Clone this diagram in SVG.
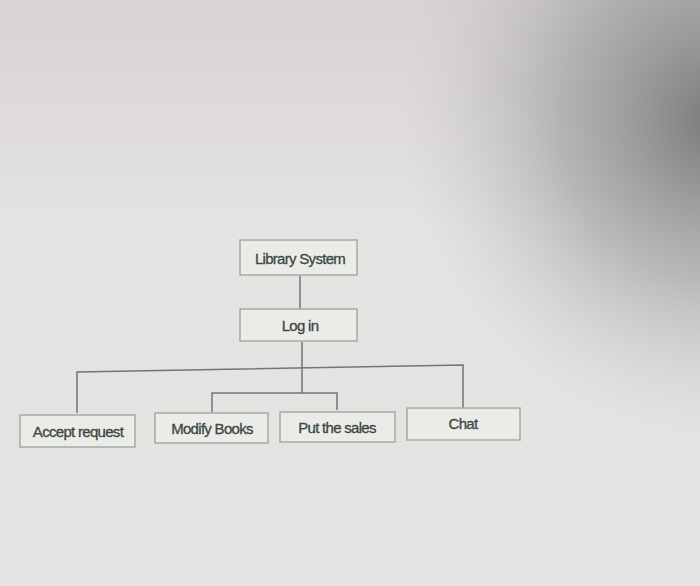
<svg xmlns="http://www.w3.org/2000/svg" width="700" height="586" viewBox="0 0 700 586">
<defs>
<linearGradient id="bg" x1="0" y1="0" x2="0" y2="1">
<stop offset="0" stop-color="#d6d3d2"/><stop offset="0.4" stop-color="#e6e4e3"/><stop offset="1" stop-color="#e4e3e1"/>
</linearGradient>
<radialGradient id="shade" cx="720" cy="120" r="320" gradientUnits="userSpaceOnUse">
<stop offset="0" stop-color="#6e6d6c" stop-opacity="0.9"/><stop offset="0.5" stop-color="#8d8c8a" stop-opacity="0.5"/><stop offset="1" stop-color="#c0bfbd" stop-opacity="0"/>
</radialGradient>
<style>
.box{fill:#ebebe7;stroke:#a3aba4;stroke-width:1.5}
.t{font-family:"Liberation Sans",Arial,sans-serif;font-size:15px;fill:#3a4744;text-anchor:middle;letter-spacing:-0.7px;stroke:#3a4744;stroke-width:0.3}
.c{fill:none;stroke:#6f7774;stroke-width:1.5}
</style>
</defs>
<rect width="700" height="586" fill="url(#bg)"/>
<rect width="700" height="586" fill="url(#shade)"/>
<g id="connectors">
<path class="c" d="M300 276V309"/>
<path class="c" d="M302 342V393"/>
<path class="c" d="M77 413V372L463 365V408"/>
<path class="c" d="M212 412V393H337V410"/>
</g>
<g id="library"><rect class="box" x="240" y="240" width="117" height="35"/><text class="t" x="300" y="264">Library System</text></g>
<g id="login"><rect class="box" x="240" y="309" width="117" height="32"/><text class="t" x="300" y="331">Log in</text></g>
<g id="accept"><rect class="box" x="20" y="415" width="115" height="32"/><text class="t" x="78" y="437">Accept request</text></g>
<g id="modify"><rect class="box" x="155" y="413" width="113" height="30"/><text class="t" x="212" y="434">Modify Books</text></g>
<g id="sales"><rect class="box" x="280" y="412" width="115" height="30"/><text class="t" x="337" y="433">Put the sales</text></g>
<g id="chat"><rect class="box" x="407" y="408" width="113" height="32"/><text class="t" x="463" y="429">Chat</text></g>
</svg>
